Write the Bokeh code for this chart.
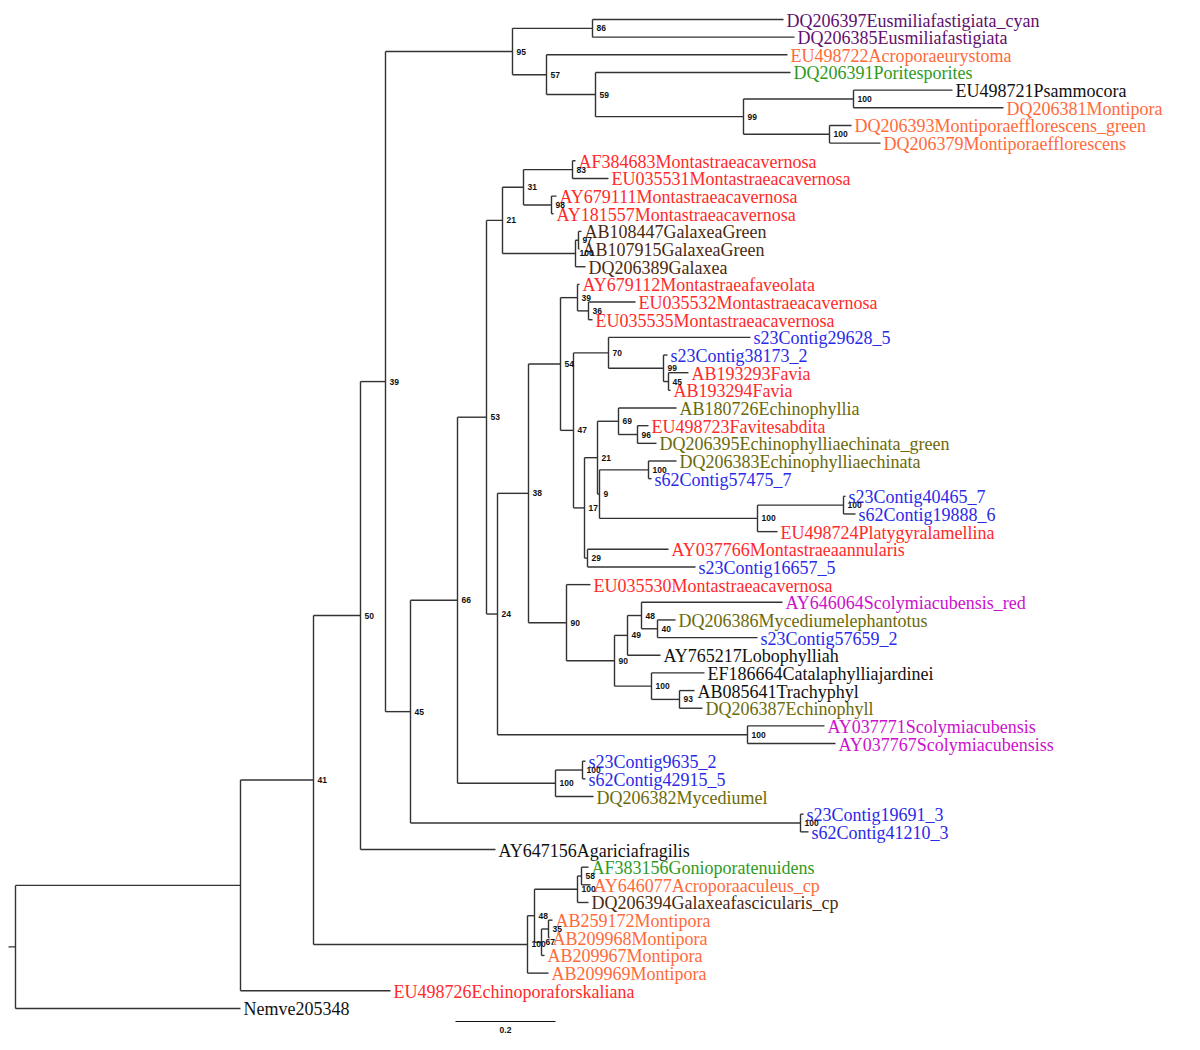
from bokeh.plotting import figure
from bokeh.models import Range1d, ColumnDataSource
from bokeh.embed import file_html
from bokeh.resources import INLINE
from bokeh.core.properties import value

# ---------------- data: internal nodes (listed parent-before-child) ----------------
node_ids = ["root", "n2", "n41", "n50", "n39", "n95", "n86", "n57", "n59", "n99",
            "n100a", "n100b", "n45", "n66", "n53", "n21", "n31", "n83", "n98", "nGal",
            "n97", "n24", "n38", "n54", "n39b", "n36", "n47", "n70", "n99b", "n45b",
            "n17", "n21b", "n69", "n96", "n9", "n100e", "n100d", "n100f", "n29", "n90a",
            "n90b", "n49", "n48", "n40", "n100c", "n93", "nScol", "n100h", "n100g", "n100i",
            "nAcro", "n48b", "n67", "n35", "n100j", "n58"]
node_parents = [None, "root", "n2", "n41", "n50", "n39", "n95", "n95", "n57", "n59",
                "n99", "n99", "n39", "n45", "n66", "n53", "n21", "n31", "n31", "n21",
                "nGal", "n53", "n24", "n38", "n54", "n39b", "n54", "n47", "n70", "n99b",
                "n47", "n17", "n21b", "n69", "n21b", "n9", "n9", "n100d", "n17", "n38",
                "n90a", "n90b", "n49", "n48", "n90b", "n100c", "n24", "n66", "n100h", "n45",
                "n41", "nAcro", "n48b", "n67", "n48b", "n100j"]
node_branch = [0.014, 0.450, 0.146, 0.094, 0.050, 0.254, 0.160, 0.068, 0.098, 0.296,
               0.220, 0.172, 0.050, 0.094, 0.058, 0.032, 0.042, 0.098, 0.056, 0.146,
               0.006, 0.022, 0.062, 0.064, 0.034, 0.022, 0.026, 0.070, 0.110, 0.010,
               0.022, 0.026, 0.042, 0.038, 0.004, 0.098, 0.316, 0.172, 0.006, 0.076,
               0.096, 0.026, 0.028, 0.032, 0.074, 0.056, 0.500, 0.196, 0.054, 0.780,
               0.428, 0.014, 0.014, 0.014, 0.086, 0.008]
node_support = ["", "", "41", "50", "39", "95", "86", "57", "59", "99",
                "100", "100", "45", "66", "53", "21", "31", "83", "98", "100",
                "97", "24", "38", "54", "39", "36", "47", "70", "99", "45",
                "17", "21", "69", "96", "9", "100", "100", "100", "29", "90",
                "90", "49", "48", "40", "100", "93", "100", "100", "100", "100",
                "100", "48", "67", "35", "100", "58"]

# ---------------- data: leaves (top to bottom) ----------------
leaf_names = ["DQ206397Eusmiliafastigiata_cyan", "DQ206385Eusmiliafastigiata",
              "EU498722Acroporaeurystoma", "DQ206391Poritesporites", "EU498721Psammocora",
              "DQ206381Montipora", "DQ206393Montiporaefflorescens_green",
              "DQ206379Montiporaefflorescens", "AF384683Montastraeacavernosa",
              "EU035531Montastraeacavernosa", "AY679111Montastraeacavernosa",
              "AY181557Montastraeacavernosa", "AB108447GalaxeaGreen", "AB107915GalaxeaGreen",
              "DQ206389Galaxea", "AY679112Montastraeafaveolata", "EU035532Montastraeacavernosa",
              "EU035535Montastraeacavernosa", "s23Contig29628_5", "s23Contig38173_2",
              "AB193293Favia", "AB193294Favia", "AB180726Echinophyllia", "EU498723Favitesabdita",
              "DQ206395Echinophylliaechinata_green", "DQ206383Echinophylliaechinata",
              "s62Contig57475_7", "s23Contig40465_7", "s62Contig19888_6",
              "EU498724Platygyralamellina", "AY037766Montastraeaannularis", "s23Contig16657_5",
              "EU035530Montastraeacavernosa", "AY646064Scolymiacubensis_red",
              "DQ206386Mycediumelephantotus", "s23Contig57659_2", "AY765217Lobophylliah",
              "EF186664Catalaphylliajardinei", "AB085641Trachyphyl", "DQ206387Echinophyll",
              "AY037771Scolymiacubensis", "AY037767Scolymiacubensiss", "s23Contig9635_2",
              "s62Contig42915_5", "DQ206382Mycediumel", "s23Contig19691_3", "s62Contig41210_3",
              "AY647156Agariciafragilis", "AF383156Gonioporatenuidens", "AY646077Acroporaaculeus_cp",
              "DQ206394Galaxeafascicularis_cp", "AB259172Montipora", "AB209968Montipora",
              "AB209967Montipora", "AB209969Montipora", "EU498726Echinoporaforskaliana",
              "Nemve205348"]
leaf_parents = ["n86", "n86", "n57", "n59", "n100a", "n100a", "n100b", "n100b", "n83", "n83",
                "n98", "n98", "n97", "n97", "nGal", "n39b", "n36", "n36", "n70", "n99b",
                "n45b", "n45b", "n69", "n96", "n96", "n100e", "n100e", "n100f", "n100f", "n100d",
                "n29", "n29", "n90a", "n48", "n40", "n40", "n49", "n100c", "n93", "n93",
                "nScol", "nScol", "n100g", "n100g", "n100h", "n100i", "n100i", "n50", "n58", "n58",
                "n100j", "n35", "n35", "n67", "nAcro", "n2", "root"]
leaf_branch = [0.382, 0.404, 0.482, 0.390, 0.198, 0.300, 0.044, 0.102, 0.006, 0.072,
               0.010, 0.004, 0.006, 0.002, 0.020, 0.004, 0.094, 0.008, 0.284, 0.008,
               0.040, 0.004, 0.116, 0.022, 0.038, 0.056, 0.006, 0.004, 0.024, 0.040,
               0.162, 0.216, 0.048, 0.282, 0.036, 0.200, 0.066, 0.106, 0.030, 0.046,
               0.154, 0.176, 0.006, 0.006, 0.076, 0.006, 0.016, 0.270, 0.014, 0.018,
               0.022, 0.008, 0.002, 0.006, 0.042, 0.300, 0.450]
leaf_groups = ["purple", "purple", "orange", "green", "black", "orange", "orange", "orange",
               "red", "red", "red", "red", "brown", "brown", "brown", "red", "red", "red",
               "blue", "blue", "red", "red", "olive", "red", "olive", "olive", "blue",
               "blue", "blue", "red", "red", "blue", "red", "magenta", "olive", "blue",
               "black", "black", "black", "olive", "magenta", "magenta", "blue", "blue",
               "olive", "blue", "blue", "black", "green", "orange", "brown", "orange",
               "orange", "orange", "orange", "red", "black"]
group_colors = {"purple": "#5f0f6e", "orange": "#ff6a3a", "green": "#2f9a1e", "black": "#111111",
                "red": "#ff2a2a", "brown": "#4a2a10", "olive": "#6b6a0a", "blue": "#2a2ae8",
                "magenta": "#cc10cc"}

scale_bar_length = 0.2
scale_bar_start = 0.88
scale_bar_label = "0.2"

# ---------------- tree layout ----------------
depth = {}
children = {n: [] for n in node_ids}
for nid, par, br in zip(node_ids, node_parents, node_branch):
    depth[nid] = 0.0 if par is None else depth[par] + br
    if par is not None:
        children[par].append(nid)

ypos = {}
leaf_x = []
for i, (name, par, br) in enumerate(zip(leaf_names, leaf_parents, leaf_branch)):
    key = "leaf:" + name
    ypos[key] = float(i)
    depth[key] = depth[par] + br
    children[par].append(key)
    leaf_x.append(depth[key])


def get_y(n):
    if n in ypos:
        return ypos[n]
    ys = [get_y(c) for c in children[n]]
    ypos[n] = (min(ys) + max(ys)) / 2.0
    return ypos[n]


get_y("root")

x0, y0, x1, y1 = [], [], [], []
for nid, par in zip(node_ids, node_parents):
    if par is not None:
        x0.append(depth[par]); x1.append(depth[nid]); y0.append(ypos[nid]); y1.append(ypos[nid])
for name, par in zip(leaf_names, leaf_parents):
    key = "leaf:" + name
    x0.append(depth[par]); x1.append(depth[key]); y0.append(ypos[key]); y1.append(ypos[key])
x0.append(-node_branch[0]); x1.append(0.0); y0.append(ypos["root"]); y1.append(ypos["root"])
for nid in node_ids:
    ys = [ypos[c] for c in children[nid]]
    x0.append(depth[nid]); x1.append(depth[nid]); y0.append(min(ys)); y1.append(max(ys))

seg_src = ColumnDataSource(dict(x0=x0, y0=y0, x1=x1, y1=y1))

p = figure(width=1184, height=1034, output_backend="svg", toolbar_location=None,
           x_range=Range1d(-0.03, 2.338), y_range=Range1d(57.475, -1.076),
           min_border=0)
p.axis.visible = False
p.xgrid.visible = False
p.ygrid.visible = False
p.outline_line_color = None

p.segment(x0="x0", y0="y0", x1="x1", y1="y1", source=seg_src,
          line_color="#333333", line_width=1.4)

leaf_src = ColumnDataSource(dict(x=leaf_x, y=list(range(len(leaf_names))), text=leaf_names,
                                 color=[group_colors[g] for g in leaf_groups]))
p.text(x="x", y="y", text="text", source=leaf_src, text_color="color",
       text_font=value("Liberation Serif"), text_font_size="18px",
       text_baseline="middle", text_align="left", x_offset=3, y_offset=1)

sup_x, sup_y, sup_t = [], [], []
for nid, s in zip(node_ids, node_support):
    if s:
        sup_x.append(depth[nid]); sup_y.append(ypos[nid]); sup_t.append(s)
sup_src = ColumnDataSource(dict(x=sup_x, y=sup_y, text=sup_t))
p.text(x="x", y="y", text="text", source=sup_src, text_color="#111111",
       text_font=value("Liberation Sans"), text_font_size="8.5px", text_font_style="bold",
       text_baseline="middle", text_align="left", x_offset=4)

# scale bar
p.segment(x0=[scale_bar_start], y0=[56.74], x1=[scale_bar_start + scale_bar_length], y1=[56.74],
          line_color="#111111", line_width=1.2)
p.text(x=[scale_bar_start + scale_bar_length / 2], y=[57.2], text=[scale_bar_label],
       text_color="#111111", text_font=value("Liberation Sans"), text_font_size="8.5px",
       text_font_style="bold", text_baseline="middle", text_align="center")

open("out.html", "w").write(file_html(p, INLINE))
